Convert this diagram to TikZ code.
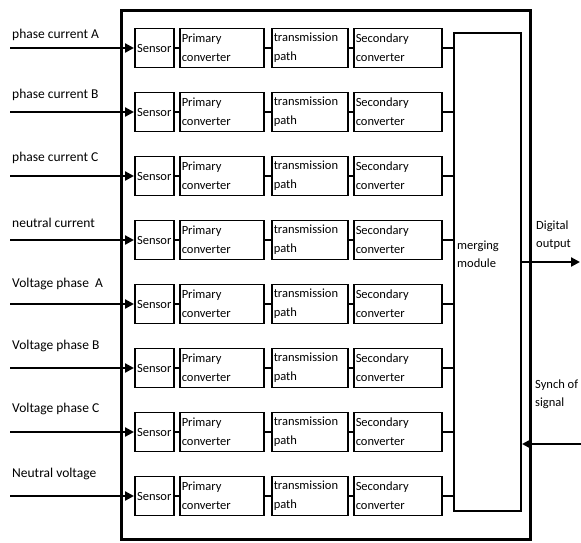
\documentclass[tikz,border=0pt]{standalone}
\usepackage{fontspec}
\setmainfont{Carlito}
\usetikzlibrary{arrows.meta}
\tikzset{
  blk/.style={draw, line width=1.5pt, minimum height=39pt, inner xsep=2pt, inner ysep=0pt,
    align=left, font=\fontsize{12.5}{19}\selectfont, anchor=west},
  sensorbox/.style={blk, inner xsep=1pt, text width=37pt, align=center},
  lbl/.style={anchor=west, inner sep=0pt, font=\fontsize{13.5}{16}\selectfont},
  sidelbl/.style={anchor=west, inner sep=0pt, align=left, font=\fontsize{12.5}{18}\selectfont},
  conn/.style={line width=2pt},
  arr/.style={line width=2.3pt, -{Triangle[length=9pt,width=9pt]}},
}
\begin{document}
\begin{tikzpicture}[x=1pt,y=-1pt]
\useasboundingbox (0,0) rectangle (581,542);
% outer box
\draw[line width=3pt] (121,10) rectangle (530,539);
\node[draw, line width=2pt, minimum width=67pt, minimum height=478pt, anchor=north west, inner sep=0pt] (m) at (453,32) {};
\node[sidelbl] (mtext) at (457,254) {merging\\module};
\foreach \i/\ly/\lab in {1/35/phase current A, 2/95/phase current B, 3/158/phase current C,
  4/223/neutral current, 5/284/Voltage phase\ \ A, 6/346/Voltage phase B,
  7/409/Voltage phase C, 8/474/Neutral voltage}{
  \pgfmathsetmacro\yc{48+64*(\i-1)}
  \node[lbl] (l\i) at (12,\ly) {\lab};
  \coordinate (in\i) at (10,\yc);
  \node[sensorbox] (s\i) at (134,\yc) {Sensor};
  \node[blk, text width=80pt] (p\i) at (179,\yc) {Primary\\converter};
  \node[blk, text width=72pt] (t\i) at (271,\yc) {transmission\\path};
  \node[blk, text width=84pt] (c\i) at (353,\yc) {Secondary\\converter};
  \draw[arr] (in\i) -- (s\i.west);
  \draw[conn] (s\i.east) -- (p\i.west);
  \draw[conn] (p\i.east) -- (t\i.west);
  \draw[conn] (t\i.east) -- (c\i.west);
  \draw[conn] (c\i.east) -- (m.west |- c\i.east);
}
% outputs
\coordinate (dout) at (580,262);
\draw[arr] (m.east |- dout) -- (dout);
\node[sidelbl] (dl) at (536,235) {Digital\\output};
\coordinate (sync) at (581,444);
\draw[arr] (sync) -- (m.east |- sync);
\node[sidelbl] (sl) at (535,394) {Synch of\\signal};
\end{tikzpicture}
\end{document}
